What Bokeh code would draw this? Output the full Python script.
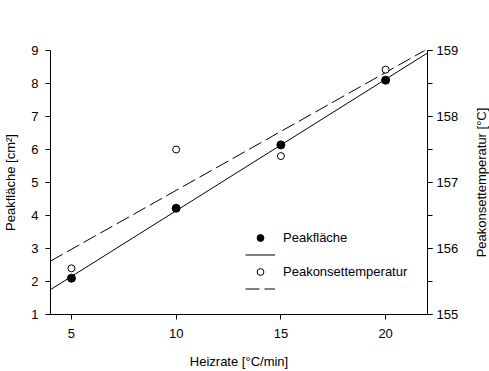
import math
import numpy as np
from bokeh.plotting import figure
from bokeh.models import (Range1d, LinearAxis, SingleIntervalTicker, Legend, LegendItem, Label)
from bokeh.embed import file_html
from bokeh.resources import INLINE

# data
heizrate = [5, 10, 15, 20]
peakflaeche = [2.10, 4.22, 6.14, 8.10]
peakonset = [155.70, 157.50, 157.40, 158.71]
x_fit = [4, 22]

FONT = "Liberation Sans"

p = figure(width=489, height=371, output_backend="svg", toolbar_location=None,
           x_range=Range1d(4, 22), y_range=Range1d(1, 9),
           min_border_left=48, min_border_right=62, min_border_top=50, min_border_bottom=56)
p.extra_y_ranges = {"temp": Range1d(155, 159)}
p.outline_line_color = None
p.xgrid.visible = False
p.ygrid.visible = False
p.background_fill_color = "white"
p.border_fill_color = "white"

# regression lines computed from the data
k1, d1 = np.polyfit(heizrate, peakflaeche, 1)
k2, d2 = np.polyfit(heizrate, peakonset, 1)
fit1 = [k1 * x + d1 for x in x_fit]
fit2 = [k2 * x + d2 for x in x_fit]

l1 = p.line(x_fit, fit1, line_color="black", line_width=1)
l2 = p.line(x_fit, fit2, line_color="black", line_width=1, line_dash="14 5",
            y_range_name="temp")
s1 = p.scatter(heizrate, peakflaeche, size=8, marker="circle",
               fill_color="black", line_color="black")
s2 = p.scatter(heizrate, peakonset, size=7, marker="circle",
               fill_color="white", line_color="black", line_width=1,
               y_range_name="temp")

def style_axis(ax, tick_standoff, label_standoff):
    ax.axis_line_color = "black"
    ax.axis_line_width = 1
    ax.major_tick_in = 0
    ax.major_tick_out = 5
    ax.minor_tick_in = 0
    ax.minor_tick_out = 5
    ax.major_tick_line_color = "black"
    ax.minor_tick_line_color = "black"
    ax.major_label_text_font = FONT
    ax.major_label_text_font_size = "13px"
    ax.major_label_text_color = "black"
    ax.axis_label_text_font = FONT
    ax.axis_label_text_font_size = "13px"
    ax.axis_label_text_font_style = "normal"
    ax.axis_label_text_color = "black"
    ax.major_label_standoff = tick_standoff
    ax.axis_label_standoff = label_standoff

xa = p.xaxis[0]
xa.ticker = SingleIntervalTicker(interval=5, num_minor_ticks=0)
xa.axis_label = "Heizrate [°C/min]"
style_axis(xa, 9, 13)

ya = p.yaxis[0]
ya.ticker = SingleIntervalTicker(interval=1, num_minor_ticks=0)
ya.axis_label = "Peakfläche [cm²]"
style_axis(ya, 7, 10)

yr = LinearAxis(y_range_name="temp", ticker=SingleIntervalTicker(interval=1, num_minor_ticks=2))
style_axis(yr, 4, 13)
p.add_layout(yr, "right")

# right axis title, reading bottom-to-top like the reference (placed in the side panel)
p.add_layout(Label(x=24.6, y=5, text="Peakonsettemperatur [°C]", angle=math.pi / 2,
                   text_align="center", text_baseline="middle",
                   text_font=FONT, text_font_size="13px", text_color="black"), "right")

legend = Legend(items=[
    LegendItem(label="Peakfläche", renderers=[s1]),
    LegendItem(label=" ", renderers=[l1]),
    LegendItem(label="Peakonsettemperatur", renderers=[s2]),
    LegendItem(label=" ", renderers=[l2]),
], location=(195, 17))
legend.background_fill_alpha = 0
legend.border_line_color = None
legend.padding = 0
legend.margin = 0
legend.spacing = 0
legend.glyph_width = 30
legend.glyph_height = 17
legend.label_height = 17
legend.label_standoff = 8
legend.label_text_font = FONT
legend.label_text_font_size = "13px"
legend.label_text_color = "black"
p.add_layout(legend, "center")

open("out.html", "w").write(file_html(p, INLINE))
